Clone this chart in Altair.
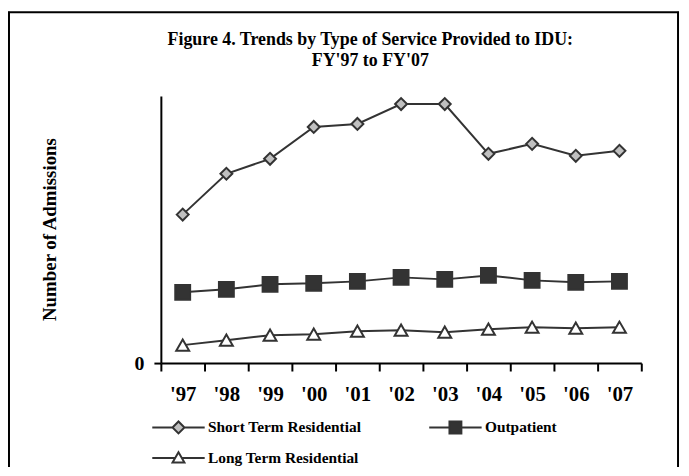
import altair as alt
import pandas as pd

# ---- data ----
years = ["'97", "'98", "'99", "'00", "'01", "'02", "'03", "'04", "'05", "'06", "'07"]
series_names = ["Short Term Residential", "Outpatient", "Long Term Residential"]
short_term = [2980, 3800, 4100, 4740, 4800, 5200, 5200, 4200, 4400, 4160, 4260]
outpatient = [1420, 1480, 1580, 1600, 1640, 1720, 1680, 1760, 1660, 1620, 1640]
long_term = [360, 460, 560, 580, 640, 660, 620, 680, 720, 700, 720]

rows = []
for name, vals in zip(series_names, [short_term, outpatient, long_term]):
    for yr, v in zip(years, vals):
        rows.append({"Year": yr, "Series": name, "Admissions": v})
df = pd.DataFrame(rows)

FONT = "Liberation Serif"
INK = "#333333"
FILLS = ["#c0c0c0", INK, "#ffffff"]
SHAPES = ["diamond", "square", "triangle-up"]
SIZES = [144, 225, 169]

# legend symbols: a line with the marker in the middle
LEGEND_PATHS = [
    "M-4.4,0H-1M1,0H4.4M-1,0L0,-1L1,0L0,1Z",
    "M-4.4,0H-1M1,0H4.4M-1,-1H1V1H-1Z",
    "M-4.4,0H-0.57M0.57,0H4.4M0,-1L1,0.75H-1Z",
]

x_enc = alt.X(
    "Year:N",
    sort=years,
    bandPosition=0.5,
    scale=alt.Scale(type="band", paddingInner=0, paddingOuter=0),
    axis=alt.Axis(
        title=None, labelAngle=0, tickBand="extent", grid=False,
        labelFont=FONT, labelFontSize=21, labelFontWeight="bold", labelColor="black",
        labelPadding=13, tickSize=8, tickWidth=2, tickColor="black",
        domainColor="black", domainWidth=2,
    ),
)
y_enc = alt.Y(
    "Admissions:Q",
    scale=alt.Scale(domain=[0, 5360], nice=False),
    axis=alt.Axis(
        values=[0], grid=False, title="Number of Admissions",
        titleFont=FONT, titleFontSize=19, titleFontWeight="bold", titleColor="black",
        titleX=-112, titleY=134, titleAngle=270, titleBaseline="middle", titleAlign="center",
        labelFont=FONT, labelFontSize=20, labelFontWeight="bold", labelColor="black",
        labelPadding=10, tickSize=7, tickWidth=2, tickColor="black",
        domainColor="black", domainWidth=2,
    ),
)

base = alt.Chart(df)
one = pd.DataFrame({"k": [0]})

# outer frame of the figure (left, top, right edges; bottom lies below the picture)
frame_left = alt.Chart(one).mark_rule(color="black", strokeWidth=2).encode(
    x=alt.value(-153), y=alt.value(-85), y2=alt.value(430))
frame_right = alt.Chart(one).mark_rule(color="black", strokeWidth=2).encode(
    x=alt.value(521), y=alt.value(-85), y2=alt.value(430))
frame_top = alt.Chart(one).mark_rule(color="black", strokeWidth=2).encode(
    x=alt.value(-154), x2=alt.value(522), y=alt.value(-84.5))

lines = base.mark_line(color=INK, strokeWidth=2).encode(
    x=x_enc, y=y_enc, detail="Series:N"
)

point_layers = []
for name, shp, fil, sz in zip(series_names, SHAPES, FILLS, SIZES):
    point_layers.append(
        base.transform_filter(alt.datum.Series == name)
        .mark_point(shape=shp, filled=True, fill=fil, stroke=INK, strokeWidth=2,
                    size=sz, opacity=1)
        .encode(x=x_enc, y=y_enc)
    )

leg = dict(
    title=None, orient="none", legendX=10, legendY=326, columns=2,
    direction="horizontal",
    columnPadding=64, rowPadding=10, padding=0,
    labelFont=FONT, labelFontSize=15.5, labelFontWeight="bold", labelColor="black",
    labelOffset=22, labelLimit=400,
    symbolOpacity=1, symbolStrokeWidth=2, symbolSize=144,
)

legend_layer = base.mark_point(filled=True, strokeWidth=2, opacity=0, size=144).encode(
    x=x_enc,
    y=y_enc,
    shape=alt.Shape("Series:N", scale=alt.Scale(domain=series_names, range=LEGEND_PATHS),
                    legend=alt.Legend(**leg)),
    fill=alt.Fill("Series:N", scale=alt.Scale(domain=series_names, range=FILLS),
                  legend=alt.Legend(**leg)),
    stroke=alt.Stroke("Series:N", scale=alt.Scale(domain=series_names, range=[INK, INK, INK]),
                      legend=alt.Legend(**leg)),
)

chart = alt.layer(frame_left, frame_right, frame_top, lines, *point_layers, legend_layer).properties(
    width=484,
    height=269,
    padding={"left": 154, "top": 87, "right": 40, "bottom": 103},
    autosize=alt.AutoSizeParams(type="none"),
    title=alt.TitleParams(
        text=["Figure 4. Trends by Type of Service Provided to IDU:", "FY'97 to FY'07"],
        font=FONT, fontSize=18, fontWeight="bold", color="black",
        anchor="middle", frame="group", dx=-31, offset=-60, lineHeight=21,
    ),
).configure_view(stroke="transparent")

chart.save("out.html", embed_options={"renderer": "svg", "actions": False})
